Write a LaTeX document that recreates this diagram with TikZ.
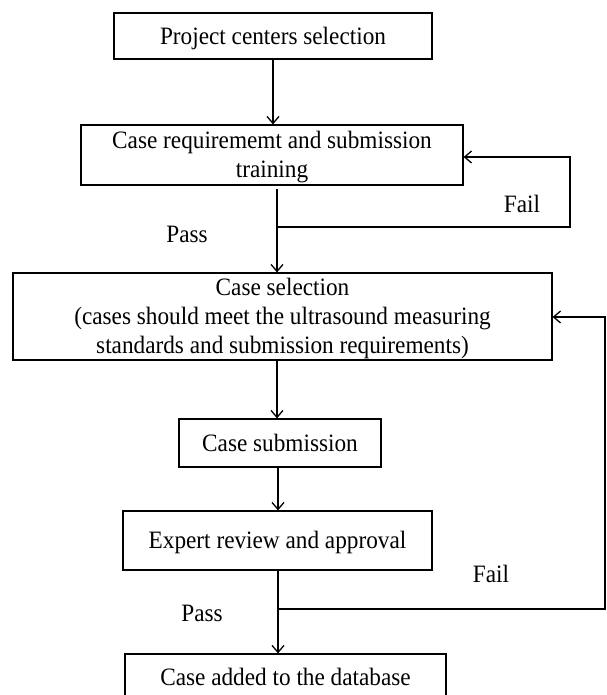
\documentclass[tikz,border=0pt]{standalone}
\usepackage{fontspec}
\usepackage{graphicx}
\setmainfont{Liberation Serif}
\usetikzlibrary{arrows.meta}
\newcommand{\sqtext}[1]{\raisebox{-2.5pt}[\height][\depth]{\scalebox{0.93}[1]{\begin{tabular}{@{}c@{}}#1\end{tabular}}}}
\begin{document}
\begin{tikzpicture}[x=1pt,y=1pt,
  box/.style={draw,line width=1.2pt,align=center,inner sep=0pt,
    font=\fontsize{25}{29}\selectfont},
  lbl/.style={inner sep=0pt,font=\fontsize{25}{29}\selectfont},
  arr/.style={line width=1.3pt,-{Straight Barb[length=7pt,width=12pt,line width=1.3pt]}},
  ln/.style={line width=1.3pt}]
\clip (0,0) rectangle (606,-695);
\fill[white] (0,0) rectangle (606,-695);
\node[box,minimum width=318,minimum height=46] (b1) at (273,-36) {\sqtext{Project centers selection}};
\node[box,minimum width=382,minimum height=60] (b2) at (272,-155) {\sqtext{Case requirememt and submission\\training}};
\node[box,minimum width=539,minimum height=87] (b3) at (282.5,-316.5) {\sqtext{Case selection\\(cases should meet the ultrasound measuring\\standards and submission requirements)}};
\node[box,minimum width=202,minimum height=48] (b4) at (280,-443) {\sqtext{Case submission}};
\node[box,minimum width=309,minimum height=59] (b5) at (277.5,-540.5) {\sqtext{Expert review and approval}};
\node[box,minimum width=321,minimum height=46] (b6) at (285.5,-677) {\sqtext{Case added to the database}};
\coordinate (j1) at (277,-227);
\coordinate (r1) at (570,-157);
\coordinate (j2) at (278,-609);
\coordinate (r2) at (605,-317);
\coordinate (x3) at (277,0);
\coordinate (x4) at (278,0);
\draw[arr] (b1.south) -- (b1.south |- b2.north);
\draw[ln] ([yshift=-3pt]b2.south -| j1) -- (j1);
\draw[arr] (j1) -- (j1 |- b3.north);
\draw[arr] (j1) -| (r1) -- (r1 -| b2.east);
\draw[arr] (b3.south -| x3) -- (x3 |- b4.north);
\draw[arr] (b4.south -| x4) -- (x4 |- b5.north);
\draw[arr] (b5.south -| j2) -- (j2 |- b6.north);
\draw[arr] (j2) -| (r2) -- (r2 -| b3.east);
\node[lbl] (f1) at (522,-204) {\sqtext{Fail}};
\node[lbl] (p1) at (187,-234) {\sqtext{Pass}};
\node[lbl] (f2) at (491,-574) {\sqtext{Fail}};
\node[lbl] (p2) at (202,-613) {\sqtext{Pass}};
\end{tikzpicture}
\end{document}
